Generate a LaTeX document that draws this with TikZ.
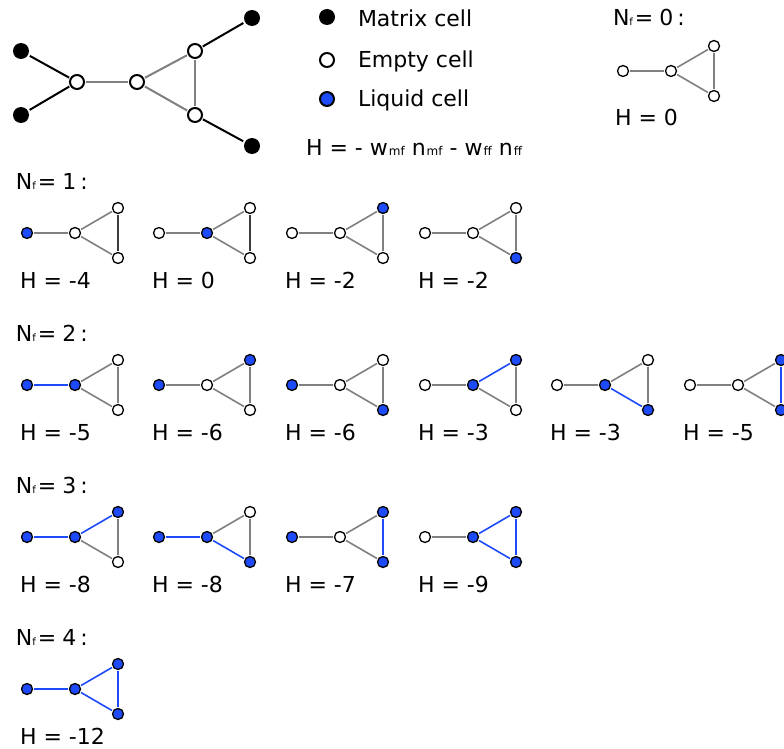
\documentclass[tikz,border=0pt]{standalone}
\usepackage{fontspec}
\setmainfont{DejaVu Sans}
\definecolor{liquid}{RGB}{30,75,250}
\definecolor{edgegray}{RGB}{128,128,128}
\definecolor{edgedark}{RGB}{60,60,60}

% Small cell graph: name, x, y of the left cell, states of cells a b c d (0 empty, 1 liquid), extra style for the c--d edge
\newcommand\cellgraph[8]{%
  \begin{scope}[shift={(#2,#3)}]
    \node[cell#4] (#1a) at (0,0) {};
    \node[cell#5] (#1b) at (48,0) {};
    \node[cell#6] (#1c) at (91,-25) {};
    \node[cell#7] (#1d) at (91,25) {};
  \end{scope}
  \draw[edge#4#5] (#1a) -- (#1b);
  \draw[edge#5#6] (#1b) -- (#1c);
  \draw[edge#5#7] (#1b) -- (#1d);
  \draw[edge#6#7,#8] (#1c) -- (#1d);
}
\newcommand\nfcount[1]{N{\fontsize{10}{10}\selectfont f}\hspace{2pt}=\hspace{6pt}#1\hspace{4pt}:}
\newcommand\sub[1]{\hspace{1pt}{\fontsize{12}{12}\selectfont #1}}

\begin{document}
\begin{tikzpicture}[x=1pt,y=-1pt,
  every node/.style={font=\fontsize{22}{26}\selectfont},
  cell0/.style={circle,draw=black,fill=white,line width=1.3pt,minimum size=11pt,inner sep=0pt,outer sep=1.5pt},
  cell1/.style={cell0,fill=liquid},
  edge00/.style={draw=edgegray,line width=1.6pt},
  edge01/.style={edge00},
  edge10/.style={edge00},
  edge11/.style={draw=liquid,line width=1.6pt},
  matrixcell/.style={circle,fill=black,minimum size=16pt,inner sep=0pt,outer sep=2pt},
  bigempty/.style={circle,draw=black,fill=white,line width=2pt,minimum size=14pt,inner sep=0pt,outer sep=2pt},
  bigliquid/.style={bigempty,fill=liquid},
  bond/.style={draw=black,line width=2pt},
  link/.style={draw=edgegray,line width=2pt},
  lbl/.style={anchor=base west,inner sep=0pt,outer sep=0pt}]
  \useasboundingbox (0,0) rectangle (784,749);

  % Pore network with its matrix neighbours
  \node[matrixcell] (m1) at (21,51) {};
  \node[matrixcell] (m2) at (21,115) {};
  \node[matrixcell] (m3) at (252,18) {};
  \node[matrixcell] (m4) at (252,146) {};
  \node[bigempty] (p1) at (77,82) {};
  \node[bigempty] (p2) at (137,82) {};
  \node[bigempty] (p3) at (195,51) {};
  \node[bigempty] (p4) at (195,115) {};
  \draw[bond] (m1) -- (p1);
  \draw[bond] (m2) -- (p1);
  \draw[bond] (m3) -- (p3);
  \draw[bond] (m4) -- (p4);
  \draw[link] (p1) -- (p2);
  \draw[link] (p2) -- (p3);
  \draw[link] (p2) -- (p4);
  \draw[link] (p3) -- (p4);

  % Legend
  \node[matrixcell] (kmatrix) at (327,17) {};
  \node[bigempty] (kempty) at (327,60) {};
  \node[bigliquid] (kliquid) at (327,99) {};
  \node[lbl] (tmatrix) at (358,27) {Matrix cell};
  \node[lbl] (tempty) at (358,68) {Empty cell};
  \node[lbl] (tliquid) at (358,107) {Liquid cell};
  \node[lbl] (energy) at (306,155) {H = - w\sub{mf} n\sub{mf} - w\sub{ff} n\sub{ff}};

  % Nf = 0
  \node[lbl] (n0) at (613,26) {\nfcount{0}};
  \cellgraph{z}{623}{71}{0}{0}{0}{0}{}
  \node[lbl] (hz) at (615,126) {H = 0};

  % Nf = 1
  \node[lbl] (n1) at (16,189) {\nfcount{1}};
  \cellgraph{a1}{27}{233}{1}{0}{0}{0}{draw=edgedark}
  \cellgraph{a2}{159}{233}{0}{1}{0}{0}{draw=edgedark}
  \cellgraph{a3}{292}{233}{0}{0}{1}{0}{}
  \cellgraph{a4}{425}{233}{0}{0}{0}{1}{}
  \node[lbl] (ha1) at (20,288) {H = -4};
  \node[lbl] (ha2) at (152,288) {H = 0};
  \node[lbl] (ha3) at (285,288) {H = -2};
  \node[lbl] (ha4) at (418,288) {H = -2};

  % Nf = 2
  \node[lbl] (n2) at (16,341) {\nfcount{2}};
  \cellgraph{b1}{27}{385}{1}{1}{0}{0}{}
  \cellgraph{b2}{159}{385}{1}{0}{1}{0}{}
  \cellgraph{b3}{292}{385}{1}{0}{0}{1}{}
  \cellgraph{b4}{425}{385}{0}{1}{1}{0}{}
  \cellgraph{b5}{557}{385}{0}{1}{0}{1}{}
  \cellgraph{b6}{690}{385}{0}{0}{1}{1}{}
  \node[lbl] (hb1) at (20,440) {H = -5};
  \node[lbl] (hb2) at (152,440) {H = -6};
  \node[lbl] (hb3) at (285,440) {H = -6};
  \node[lbl] (hb4) at (418,440) {H = -3};
  \node[lbl] (hb5) at (550,440) {H = -3};
  \node[lbl] (hb6) at (683,440) {H = -5};

  % Nf = 3
  \node[lbl] (n3) at (16,493) {\nfcount{3}};
  \cellgraph{c1}{27}{537}{1}{1}{1}{0}{}
  \cellgraph{c2}{159}{537}{1}{1}{0}{1}{}
  \cellgraph{c3}{292}{537}{1}{0}{1}{1}{}
  \cellgraph{c4}{425}{537}{0}{1}{1}{1}{}
  \node[lbl] (hc1) at (20,592) {H = -8};
  \node[lbl] (hc2) at (152,592) {H = -8};
  \node[lbl] (hc3) at (285,592) {H = -7};
  \node[lbl] (hc4) at (418,592) {H = -9};

  % Nf = 4
  \node[lbl] (n4) at (16,645) {\nfcount{4}};
  \cellgraph{d1}{27}{689}{1}{1}{1}{1}{}
  \node[lbl] (hd1) at (20,744) {H = -12};
\end{tikzpicture}
\end{document}
